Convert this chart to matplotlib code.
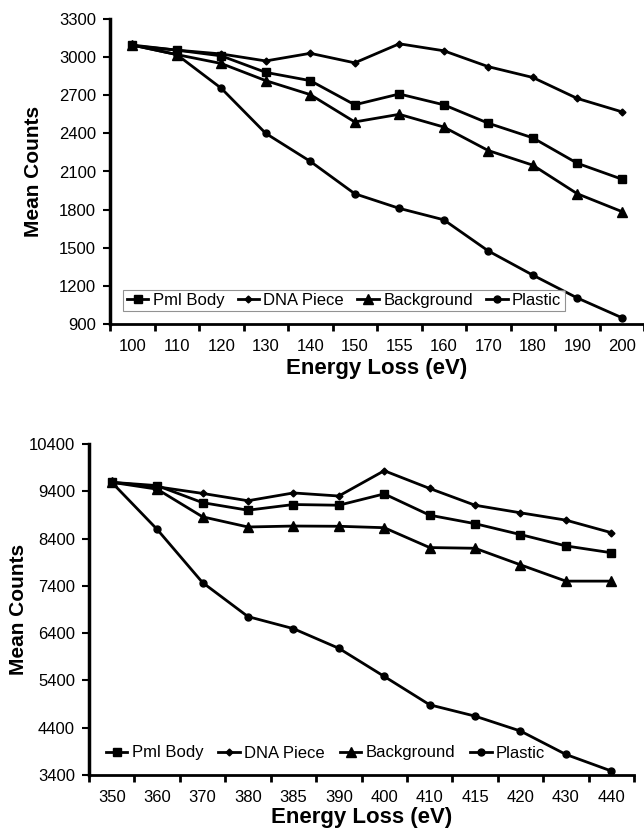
import numpy as np
import matplotlib
matplotlib.use("Agg")
import matplotlib.pyplot as plt

plt.rcParams['font.family'] = ['Liberation Sans', 'DejaVu Sans']

# ---- data ----
energy_top = ['100', '110', '120', '130', '140', '150', '155', '160', '170', '180', '190', '200']
pml_top = [3095, 3055, 3010, 2880, 2815, 2625, 2710, 2625, 2480, 2365, 2165, 2040]
dna_top = [3090, 3055, 3025, 2970, 3030, 2955, 3105, 3050, 2925, 2840, 2675, 2570]
bg_top = [3095, 3020, 2950, 2815, 2705, 2490, 2550, 2450, 2265, 2150, 1925, 1785]
plastic_top = [3095, 3020, 2755, 2400, 2180, 1925, 1810, 1720, 1475, 1285, 1105, 950]

energy_bot = ['350', '360', '370', '380', '385', '390', '400', '410', '415', '420', '430', '440']
pml_bot = [9590, 9520, 9160, 9000, 9120, 9105, 9345, 8895, 8715, 8485, 8245, 8100]
dna_bot = [9590, 9495, 9355, 9200, 9365, 9300, 9835, 9460, 9105, 8945, 8790, 8525]
bg_bot = [9590, 9445, 8860, 8645, 8665, 8660, 8630, 8210, 8195, 7845, 7500, 7500]
plastic_bot = [9590, 8595, 7470, 6750, 6495, 6080, 5485, 4885, 4645, 4330, 3835, 3485]

series_names = ['Pml Body', 'DNA Piece', 'Background', 'Plastic']
series_markers = [('s', 6), ('D', 3.5), ('^', 6.5), ('o', 5)]

W, H = 644, 831
fig = plt.figure(figsize=(W / 100, H / 100), dpi=100)


def px_axes(left, top, right, bottom):
    return fig.add_axes([left / W, 1 - bottom / H, (right - left) / W, (bottom - top) / H])


def draw_panel(ax, cats, data, yticks, label_x, label_y):
    x = np.arange(len(cats))
    for vals, name, (mk, ms) in zip(data, series_names, series_markers):
        ax.plot(x, vals, color='black', lw=2, marker=mk, markersize=ms,
                markerfacecolor='black', markeredgecolor='black', label=name,
                clip_on=False)
    ax.set_xlim(-0.5, len(cats) - 0.5)
    ax.set_ylim(yticks[0], yticks[-1])
    ax.set_yticks(yticks)
    ax.set_yticklabels([str(v) for v in yticks], fontsize=12)
    # ticks sit between categories, labels at category centres
    ax.set_xticks(np.arange(-0.5, len(cats), 1.0))
    ax.set_xticklabels([])
    ax.set_xticks(x, minor=True)
    ax.set_xticklabels(cats, minor=True, fontsize=12)
    ax.tick_params(axis='x', which='major', direction='out', length=5, width=2)
    ax.tick_params(axis='x', which='minor', length=0, pad=11)
    ax.tick_params(axis='y', direction='out', length=5, width=1.5, pad=5)
    for s in ['top', 'right']:
        ax.spines[s].set_visible(False)
    ax.spines['left'].set_linewidth(2.5)
    ax.spines['bottom'].set_linewidth(2)
    ax.set_xlabel('Energy Loss (eV)', fontsize=16, fontweight='bold')
    ax.set_ylabel('Mean Counts', fontsize=15, fontweight='bold')
    ax.xaxis.set_label_coords(0.5, label_x)
    ax.yaxis.set_label_coords(label_y, 0.5)


ax1 = px_axes(110, 19, 644, 324)
draw_panel(ax1, energy_top, [pml_top, dna_top, bg_top, plastic_top],
           list(range(900, 3301, 300)), -0.113, -0.125)
leg1 = ax1.legend(loc='center', bbox_to_anchor=(344 / W, 1 - 300.5 / H),
                  bbox_transform=fig.transFigure, ncol=4, fontsize=12,
                  frameon=True, fancybox=False, handlelength=1.3,
                  handletextpad=0.25, columnspacing=0.8, borderpad=0.2,
                  borderaxespad=0)
leg1.get_frame().set_edgecolor('#777777')
leg1.get_frame().set_linewidth(0.8)

ax2 = px_axes(89, 444, 634, 775)
draw_panel(ax2, energy_bot, [pml_bot, dna_bot, bg_bot, plastic_bot],
           list(range(3400, 10401, 1000)), -0.098, -0.112)
ax2.legend(loc='center', bbox_to_anchor=(325.5 / W, 1 - 753 / H),
           bbox_transform=fig.transFigure, ncol=4, fontsize=12,
           frameon=False, handlelength=1.3, handletextpad=0.25,
           columnspacing=0.9, borderpad=0.2, borderaxespad=0)

fig.savefig('out.png', dpi=100)
